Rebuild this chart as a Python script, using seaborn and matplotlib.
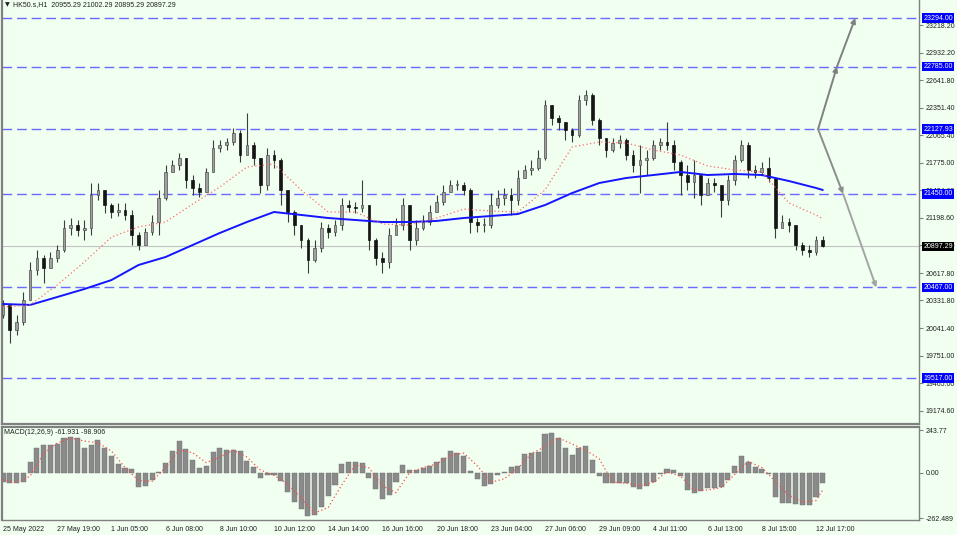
import numpy as np
import seaborn as sns
import matplotlib.pyplot as plt
import matplotlib.transforms as mtransforms

# HK50 hourly candles, compressed (one candle ~ 3 hourly bars)
closes = [20284, 20021, 20105, 20336, 20651, 20777, 20672, 20777, 20860, 21091,
          21123, 21070, 21091, 21437, 21490, 21332, 21259, 21280, 21228, 21018,
          20913, 21049, 21154, 21406, 21679, 21752, 21826, 21595, 21511, 21469,
          21679, 21930, 21962, 21993, 22088, 21857, 21962, 21826, 21542, 21857,
          21805, 21490, 21259, 21123, 20965, 20756, 20881, 21091, 21049, 21123,
          21332, 21311, 21301, 21332, 20965, 20777, 20735, 21018, 21123, 21332,
          20965, 21091, 21154, 21259, 21364, 21469, 21542, 21542, 21490, 21154,
          21123, 21123, 21332, 21406, 21437, 21385, 21616, 21700, 21721, 21826,
          22381, 22245, 22203, 22119, 22067, 22434, 22486, 22224, 22035, 21909,
          21983, 22014, 21857, 21752, 21805, 21826, 21962, 21993, 21962, 21784,
          21647, 21574, 21647, 21437, 21563, 21542, 21385, 21595, 21805, 21962,
          21700, 21679, 21721, 21616, 21091, 21154, 21123, 20913, 20860, 20840,
          20965, 20897.29]
highs = [20336, 20284, 20179, 20420, 20735, 20860, 20808, 20840, 20913, 21175,
         21196, 21175, 21175, 21563, 21563, 21490, 21353, 21353, 21353, 21280,
         21049, 21091, 21228, 21490, 21752, 21805, 21878, 21805, 21647, 21563,
         21721, 22014, 22014, 22035, 22140, 22119, 22298, 21993, 21805, 21930,
         21909, 21826, 21490, 21280, 21123, 20986, 20965, 21154, 21133, 21175,
         21406, 21385, 21364, 21595, 21332, 20986, 20840, 21091, 21196, 21406,
         21332, 21175, 21228, 21332, 21437, 21542, 21595, 21595, 21574, 21511,
         21196, 21196, 21458, 21490, 21511, 21511, 21700, 21752, 21805, 21909,
         22434, 22350, 22277, 22203, 22140, 22486, 22539, 22507, 22245, 22035,
         22035, 22067, 22035, 21909, 21962, 21909, 22014, 22035, 22203, 22014,
         21805, 21752, 21805, 21647, 21616, 21616, 21542, 21647, 21857, 22014,
         21993, 21752, 21784, 21836, 21595, 21228, 21196, 21123, 20944, 20913,
         21007, 21002.29]
lows = [20147, 19885, 19969, 20074, 20336, 20598, 20514, 20672, 20735, 20840,
        21018, 21007, 20965, 21018, 21385, 21249, 21196, 21217, 21175, 20913,
        20860, 20913, 21018, 21018, 21385, 21679, 21700, 21511, 21437, 21416,
        21469, 21679, 21888, 21909, 21962, 21784, 21909, 21752, 21458, 21490,
        21721, 21332, 21154, 21018, 20881, 20619, 20735, 20840, 20986, 21007,
        21070, 21259, 21249, 21259, 20860, 20703, 20619, 20672, 21018, 21070,
        20860, 20913, 21070, 21123, 21259, 21332, 21469, 21490, 21437, 21039,
        21049, 21049, 21091, 21301, 21332, 21228, 21332, 21616, 21647, 21700,
        21805, 22172, 22119, 22014, 21993, 22046, 22381, 22172, 21962, 21836,
        21888, 21930, 21805, 21679, 21458, 21647, 21805, 21909, 21909, 21700,
        21437, 21490, 21406, 21332, 21490, 21469, 21207, 21332, 21542, 21784,
        21616, 21616, 21647, 21574, 20986, 21091, 21049, 20860, 20808, 20787,
        20808, 20895.29]
first_open = 20179

# moving averages, read every 4th candle
ma_idx = list(range(0, 121, 4)) + [121]
ma_slow = [20294, 20284, 20367, 20451, 20545, 20703, 20787, 20913, 21039, 21154,
           21259, 21228, 21196, 21175, 21154, 21154, 21165, 21196, 21217, 21238,
           21332, 21458, 21563, 21616, 21647, 21679, 21647, 21658, 21647, 21584,
           21511, 21490]
ma_fast = [20262, 20284, 20493, 20735, 20996, 21102, 21154, 21343, 21521, 21731,
           21763, 21490, 21259, 21259, 21133, 21123, 21196, 21290, 21269, 21259,
           21490, 21941, 21993, 21983, 21909, 21857, 21742, 21700, 21679, 21353,
           21228, 21186]

# MACD(12,26,9)
macd_hist = [-55, -60, -60, -55, 60, 140, 160, 160, 165, 200,
             205, 200, 145, 160, 190, 140, 95, 50, 30, 20,
             -80, -75, -40, 5, 55, 125, 180, 135, 75, 30,
             40, 120, 140, 130, 130, 125, 65, 35, -30, -15,
             -15, -50, -110, -170, -210, -250, -245, -195, -135, -70,
             50, 60, 60, 55, -30, -95, -150, -130, -55, 45,
             15, 15, 25, 40, 60, 85, 125, 115, 95, 10,
             -35, -75, -65, -15, 5, 35, 40, 105, 115, 120,
             225, 230, 200, 140, 100, 145, 155, 75, -20, -60,
             -60, -58, -60, -80, -95, -75, -55, -5, 20, 15,
             -20, -100, -115, -108, -90, -90, -82, -40, 40, 98,
             60, 35, 20, -5, -140, -175, -175, -178, -185, -185,
             -140, -61.931]
sig_idx = list(range(0, 121, 2)) + [121]
macd_signal = [-40, -58, -20, 110, 170, 200, 182, 172, 125, 30,
               -45, -50, 30, 130, 115, 58, 90, 130, 90, 15,
               -15, -65, -145, -232, -200, -70, 45, 28, -75, -115,
               0, 30, 50, 100, 113, 40, -55, -35, 25, 110,
               150, 200, 165, 130, 80, -55, -60, -75, -55, 5,
               -20, -100, -100, -85, -10, 65, 30, -50, -130, -170,
               -160, -98.906]

levels = [23294.00, 22785.00, 22127.93, 21450.00, 20467.00, 19517.00]
last_price = 20897.29
price_ticks = [23218.20, 22932.20, 22641.80, 22351.40, 22065.40, 21775.00, 21484.60,
               21198.60, 20908.20, 20617.80, 20331.80, 20041.40, 19751.00, 19465.00, 19174.60]
date_labels = ['25 May 2022', '27 May 19:00', '1 Jun 05:00', '6 Jun 08:00', '8 Jun 10:00',
               '10 Jun 12:00', '14 Jun 14:00', '16 Jun 16:00', '20 Jun 18:00', '23 Jun 04:00',
               '27 Jun 06:00', '29 Jun 09:00', '4 Jul 11:00', '6 Jul 13:00', '8 Jul 15:00',
               '12 Jul 17:00']
# projected path (bars ahead of the last candle, target level)
up_path_x = [120.3, 123.1, 125.8]
up_path_lv = [levels[2], levels[1], levels[0]]
down_path_x = [120.3, 124.0, 128.9]
down_path_lv = [levels[2], levels[3], levels[4]]

BG = '#F0FFF0'
GRID = '#808080'
FS = 5.0

sns.set_style('white', {'axes.facecolor': BG, 'figure.facecolor': BG,
                        'axes.edgecolor': GRID})
plt.rcParams['font.family'] = ['Liberation Sans', 'DejaVu Sans']

fig = plt.figure(figsize=(9.57, 5.35), dpi=100)
ax = fig.add_axes([2 / 957, 111 / 535, 917 / 957, 424 / 535])
ax2 = fig.add_axes([2 / 957, 15 / 535, 917 / 957, 93 / 535])

closes = np.array(closes, dtype=float)
highs = np.array(highs, dtype=float)
lows = np.array(lows, dtype=float)
idx = np.arange(len(closes))
opens = np.r_[first_open, closes[:-1]]
highs = np.maximum(highs, np.maximum(opens, closes))
lows = np.minimum(lows, np.minimum(opens, closes))
up = closes >= opens

# levels and current price
for lv in levels:
    ax.axhline(lv, color='#6a6aff', lw=1.0, dashes=(7, 3.5), zorder=1)
ax.axhline(last_price, color='#c4c4c4', lw=0.8, zorder=1)

# candles
ax.vlines(idx, lows, highs, color='#3c3c3c', lw=0.8, zorder=3)
body = closes - opens
ax.bar(idx[up], np.where(np.abs(body[up]) < 8, 8, body[up]), bottom=opens[up],
       width=0.4, color='#a0a0a0', edgecolor='#505050', lw=0.5, zorder=4)
ax.bar(idx[~up], body[~up], bottom=opens[~up], width=0.4,
       color='#151515', edgecolor='#151515', lw=0.5, zorder=4)

# moving averages
sns.lineplot(x=ma_idx, y=ma_slow, ax=ax, color='#1414ff', lw=1.4, legend=False, zorder=5)
sns.lineplot(x=ma_idx, y=ma_fast, ax=ax, color='#ff6a6a', lw=0.9, linestyle=(0, (1, 2)),
             legend=False, zorder=5)

# projected arrows
for xs, lvs, cols in [(up_path_x, up_path_lv, ['#808080', '#808080']),
                      (down_path_x, down_path_lv, ['#8c8c8c', '#a4a4a4'])]:
    for k in range(2):
        ax.annotate('', xy=(xs[k + 1], lvs[k + 1]), xytext=(xs[k], lvs[k]),
                    arrowprops=dict(arrowstyle='-|>', color=cols[k], lw=1.4,
                                    mutation_scale=7, shrinkA=0, shrinkB=0), zorder=6)

ax.set_xlim(-0.15, 135.2)
ax.set_ylim(19035, 23483)
ax.set_xticks([])
ax.yaxis.tick_right()
ax.set_yticks(price_ticks)
ax.set_yticklabels([f'{v:.2f}' for v in price_ticks])
ax.tick_params(axis='y', direction='out', length=3, width=0.8, color=GRID,
               labelsize=FS, pad=1.5, labelcolor='#202020')
ax.spines['top'].set_visible(False)
for s in ['left', 'right', 'bottom']:
    ax.spines[s].set_color(GRID)
ax.spines['bottom'].set_linewidth(1.6)
ax.spines['left'].set_linewidth(1.6)
ax.spines['right'].set_linewidth(1.0)

trans = mtransforms.blended_transform_factory(ax.transAxes, ax.transData)
for lv in levels:
    ax.text(1.0045, lv, f'{lv:.2f}', transform=trans, color='white', fontsize=FS,
            va='center', ha='left', clip_on=False, zorder=10,
            bbox=dict(boxstyle='square,pad=0.18', fc='#0000ff', ec='none'))
ax.text(1.0045, last_price, f'{last_price:.2f}', transform=trans, color='white',
        fontsize=FS, va='center', ha='left', clip_on=False, zorder=10,
        bbox=dict(boxstyle='square,pad=0.18', fc='#000000', ec='none'))

# MACD panel
ax2.bar(idx, macd_hist, width=0.75, color='#8a8a8a', edgecolor='#6e6e6e', lw=0.3, zorder=2)
sns.lineplot(x=sig_idx, y=macd_signal, ax=ax2, color='#ff4a4a', lw=0.9,
             linestyle=(0, (1, 2)), legend=False, zorder=3)
ax2.set_xlim(-0.15, 135.2)
ax2.set_ylim(-272, 263)
ax2.yaxis.tick_right()
ax2.set_yticks([243.77, 0.0, -262.489])
ax2.set_yticklabels(['243.77', '0.00', '-262.489'])
ax2.tick_params(axis='y', direction='out', length=3, width=0.8, color=GRID,
                labelsize=FS, pad=1.5, labelcolor='#202020')
ax2.set_xticks(list(range(0, 121, 8)))
ax2.set_xticklabels(date_labels, ha='left')
ax2.tick_params(axis='x', direction='out', length=3, width=0.8, color=GRID,
                labelsize=FS, pad=1, labelcolor='#202020')
for s in ['left', 'right', 'bottom', 'top']:
    ax2.spines[s].set_color(GRID)
ax2.spines['top'].set_linewidth(1.6)
ax2.spines['left'].set_linewidth(1.6)
ax2.spines['right'].set_linewidth(1.0)
ax2.spines['bottom'].set_linewidth(1.0)

# header texts
fig.text(5 / 957, 1 - 5 / 535, '\u25bc', fontsize=4.5, family='DejaVu Sans',
         va='center', ha='left', color='#202020')
fig.text(13 / 957, 1 - 5 / 535, 'HK50.s,H1  20955.29 21002.29 20895.29 20897.29',
         fontsize=FS, va='center', ha='left', color='#202020')
fig.text(4 / 957, 1 - 432 / 535, 'MACD(12,26,9) -61.931 -98.906',
         fontsize=FS, va='center', ha='left', color='#202020')

fig.savefig('out.png', dpi=100, facecolor=BG)
